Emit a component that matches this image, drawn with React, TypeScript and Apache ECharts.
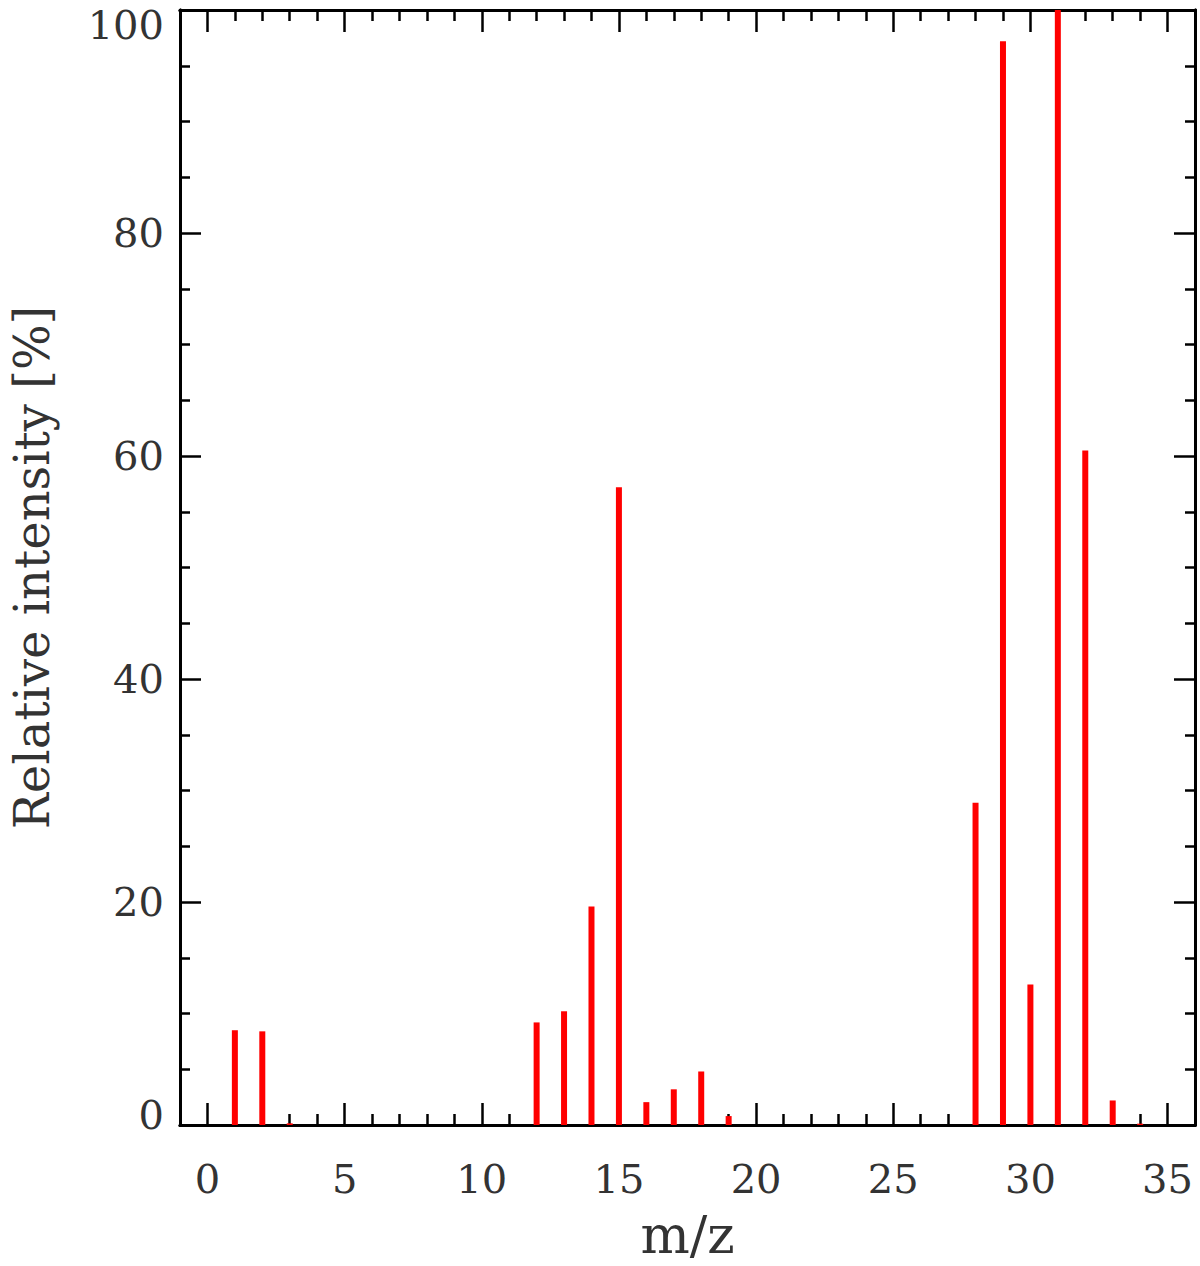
import React, { useEffect, useRef } from "react";
import * as echarts from "echarts";

const massToCharge = [1, 2, 3, 12, 13, 14, 15, 16, 17, 18, 19, 28, 29, 30, 31, 32, 33, 34];
const intensity = [8.5, 8.4, 0.15, 9.2, 10.2, 19.6, 57.2, 2.05, 3.2, 4.8, 0.8, 28.9, 97.2, 12.6, 100, 60.5, 2.2, 0.12];

const xMajor = [0, 5, 10, 15, 20, 25, 30, 35];
const xMinor = [1, 2, 3, 4, 6, 7, 8, 9, 11, 12, 13, 14, 16, 17, 18, 19, 21, 22, 23, 24, 26, 27, 28, 29, 31, 32, 33, 34];
const yMajor = [0, 20, 40, 60, 80, 100];
const yMinor = [5, 10, 15, 25, 30, 35, 45, 50, 55, 65, 70, 75, 85, 90, 95];

const FONT = "DejaVu Serif";
const TXT = "#333";

export default function App() {
  const ref = useRef<HTMLDivElement>(null);
  useEffect(() => {
    document.body.style.margin = "0";
    const chart = echarts.init(ref.current!, undefined, { renderer: "svg" });
    const line = { show: true, onZero: false, lineStyle: { color: "#000", width: 3 } };
    const mkX = (pos: "top" | "bottom", ticks: number[], len: number, labels: boolean, name?: string) => ({
      type: "value",
      position: pos,
      min: -1,
      max: 36,
      name: name,
      nameLocation: "middle",
      nameGap: 84,
      nameTextStyle: { fontFamily: FONT, fontSize: 52, color: TXT },
      axisLine: line,
      axisTick: { show: true, inside: true, length: len, customValues: ticks, lineStyle: { color: "#000", width: 2.5 } },
      axisLabel: labels
        ? { show: true, customValues: ticks, fontFamily: FONT, fontSize: 40, color: TXT, margin: 34 }
        : { show: false },
      splitLine: { show: false },
    });
    const mkY = (pos: "left" | "right", ticks: number[], len: number, labels: boolean, name?: string) => ({
      type: "value",
      position: pos,
      min: 0,
      max: 100,
      name: name,
      nameLocation: "middle",
      nameGap: 124,
      nameTextStyle: { fontFamily: FONT, fontSize: 48, color: TXT },
      axisLine: line,
      axisTick: { show: true, inside: true, length: len, customValues: ticks, lineStyle: { color: "#000", width: 2.5 } },
      axisLabel: labels
        ? {
            show: true,
            customValues: ticks,
            fontFamily: FONT,
            fontSize: 40,
            color: TXT,
            margin: 16,
            formatter: (v: number) => (v === 100 ? "{top|100}" : v === 0 ? "{bot|0}" : String(v)),
            rich: {
              top: { fontFamily: FONT, fontSize: 40, color: TXT, padding: [30, 0, 0, 0] },
              bot: { fontFamily: FONT, fontSize: 40, color: TXT, padding: [0, 0, 20, 0] },
            },
          }
        : { show: false },
      splitLine: { show: false },
    });
    chart.setOption({
      animation: false,
      backgroundColor: "#fff",
      grid: { left: 178, right: 5, top: 10, bottom: 133 },
      xAxis: [
        mkX("bottom", xMajor, 22, true, "m/z"),
        mkX("bottom", xMinor, 11, false),
        mkX("top", xMajor, 22, false),
        mkX("top", xMinor, 11, false),
      ],
      yAxis: [
        mkY("left", yMajor, 21, true, "Relative intensity [%]"),
        mkY("left", yMinor, 10, false),
        mkY("right", yMajor, 21, false),
        mkY("right", yMinor, 10, false),
      ],
      series: [
        {
          type: "bar",
          xAxisIndex: 0,
          yAxisIndex: 0,
          barWidth: 6,
          itemStyle: { color: "#ff0000" },
          data: massToCharge.map((m, i) => [m, intensity[i]]),
        },
      ],
    });
    return () => chart.dispose();
  }, []);
  return <div ref={ref} style={{ width: 1200, height: 1266 }} />;
}
